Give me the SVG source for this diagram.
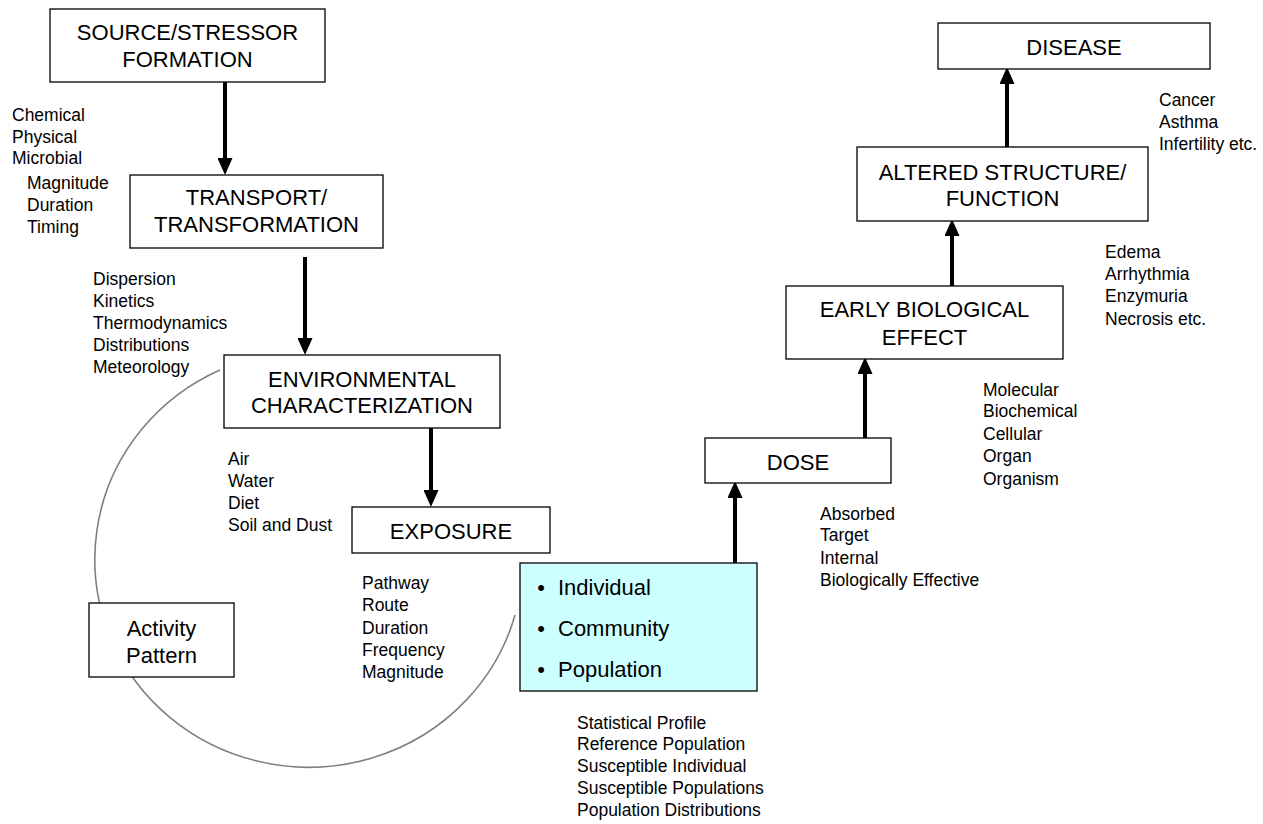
<svg xmlns="http://www.w3.org/2000/svg" width="1263" height="824" viewBox="0 0 1263 824">
<style>
.box{fill:#fff;stroke:#000;stroke-width:1.3}
.cyan{fill:#ccffff;stroke:#000;stroke-width:1.3}
.big{font-family:"Liberation Sans",Arial,sans-serif;font-size:22px;fill:#000;text-anchor:middle}
.bul{font-family:"Liberation Sans",Arial,sans-serif;font-size:22px;fill:#000}
.sm{font-family:"Liberation Sans",Arial,sans-serif;font-size:17.5px;fill:#000}
.arr{stroke:#000;stroke-width:4;fill:none;marker-end:url(#ah)}
.arc{fill:none;stroke:#808080;stroke-width:1.6}
</style>
<defs>
<marker id="ah" viewBox="0 0 17 15" refX="0" refY="7.5" markerWidth="17" markerHeight="15" markerUnits="userSpaceOnUse" orient="auto">
<path d="M0,0 L17,7.5 L0,15 z" fill="#000"/>
</marker>
</defs>

<path id="activity-arc" class="arc" d="M220,370 A214,208 0 1 0 515,615"/>

<g id="connectors">
<line class="arr" x1="225" y1="82" x2="225" y2="158"/>
<line class="arr" x1="305" y1="257" x2="305" y2="338"/>
<line class="arr" x1="431" y1="428" x2="431" y2="490"/>
<line class="arr" x1="735" y1="563" x2="735" y2="498"/>
<line class="arr" x1="865" y1="438" x2="865" y2="374"/>
<line class="arr" x1="952" y1="286" x2="952" y2="236"/>
<line class="arr" x1="1007" y1="147" x2="1007" y2="84"/>
</g>

<g id="source">
<rect class="box" x="50" y="9" width="275" height="73"/>
<text class="big" x="187.5" y="40">SOURCE/STRESSOR</text>
<text class="big" x="187.5" y="67">FORMATION</text>
</g>
<g id="source-notes" class="sm">
<text x="12" y="121">Chemical</text>
<text x="12" y="143">Physical</text>
<text x="12" y="164">Microbial</text>
<text x="27" y="189">Magnitude</text>
<text x="27" y="211">Duration</text>
<text x="27" y="233">Timing</text>
</g>

<g id="transport">
<rect class="box" x="130" y="175" width="253" height="73"/>
<text class="big" x="256.5" y="205">TRANSPORT/</text>
<text class="big" x="256.5" y="232">TRANSFORMATION</text>
</g>
<g id="transport-notes" class="sm">
<text x="93" y="285">Dispersion</text>
<text x="93" y="307">Kinetics</text>
<text x="93" y="329">Thermodynamics</text>
<text x="93" y="351">Distributions</text>
<text x="93" y="373">Meteorology</text>
</g>

<g id="environmental">
<rect class="box" x="224" y="355" width="276" height="73"/>
<text class="big" x="362" y="387">ENVIRONMENTAL</text>
<text class="big" x="362" y="413">CHARACTERIZATION</text>
</g>
<g id="environmental-notes" class="sm">
<text x="228" y="465">Air</text>
<text x="228" y="487">Water</text>
<text x="228" y="509">Diet</text>
<text x="228" y="531">Soil and Dust</text>
</g>

<g id="exposure">
<rect class="box" x="352" y="507" width="198" height="46"/>
<text class="big" x="451" y="539">EXPOSURE</text>
</g>
<g id="exposure-notes" class="sm">
<text x="362" y="589">Pathway</text>
<text x="362" y="611">Route</text>
<text x="362" y="634">Duration</text>
<text x="362" y="656">Frequency</text>
<text x="362" y="678">Magnitude</text>
</g>

<g id="activity">
<rect class="box" x="89" y="603" width="145" height="74"/>
<text class="big" x="161.5" y="636">Activity</text>
<text class="big" x="161.5" y="663">Pattern</text>
</g>

<g id="population">
<rect class="cyan" x="520" y="563" width="237" height="128"/>
<text class="bul" x="541" y="595" text-anchor="middle">•</text>
<text class="bul" x="558" y="595">Individual</text>
<text class="bul" x="541" y="636" text-anchor="middle">•</text>
<text class="bul" x="558" y="636">Community</text>
<text class="bul" x="541" y="677" text-anchor="middle">•</text>
<text class="bul" x="558" y="677">Population</text>
</g>
<g id="population-notes" class="sm">
<text x="577" y="728.5">Statistical Profile</text>
<text x="577" y="750">Reference Population</text>
<text x="577" y="772">Susceptible Individual</text>
<text x="577" y="794">Susceptible Populations</text>
<text x="577" y="815.5">Population Distributions</text>
</g>

<g id="dose">
<rect class="box" x="705" y="438" width="186" height="45"/>
<text class="big" x="798" y="470">DOSE</text>
</g>
<g id="dose-notes" class="sm">
<text x="820" y="519.5">Absorbed</text>
<text x="820" y="541">Target</text>
<text x="820" y="563.5">Internal</text>
<text x="820" y="585.5">Biologically Effective</text>
</g>

<g id="early">
<rect class="box" x="786" y="286" width="277" height="73"/>
<text class="big" x="924.5" y="317">EARLY BIOLOGICAL</text>
<text class="big" x="924.5" y="345">EFFECT</text>
</g>
<g id="early-notes" class="sm">
<text x="983" y="395.5">Molecular</text>
<text x="983" y="417">Biochemical</text>
<text x="983" y="439.5">Cellular</text>
<text x="983" y="462">Organ</text>
<text x="983" y="484.5">Organism</text>
</g>

<g id="altered">
<rect class="box" x="857" y="147" width="291" height="74"/>
<text class="big" x="1002.5" y="180">ALTERED STRUCTURE/</text>
<text class="big" x="1002.5" y="206">FUNCTION</text>
</g>
<g id="altered-notes" class="sm">
<text x="1105" y="258">Edema</text>
<text x="1105" y="280">Arrhythmia</text>
<text x="1105" y="302">Enzymuria</text>
<text x="1105" y="324.5">Necrosis etc.</text>
</g>

<g id="disease">
<rect class="box" x="938" y="23" width="272" height="46"/>
<text class="big" x="1074" y="55">DISEASE</text>
</g>
<g id="disease-notes" class="sm">
<text x="1159" y="106">Cancer</text>
<text x="1159" y="128">Asthma</text>
<text x="1159" y="150">Infertility etc.</text>
</g>
</svg>
